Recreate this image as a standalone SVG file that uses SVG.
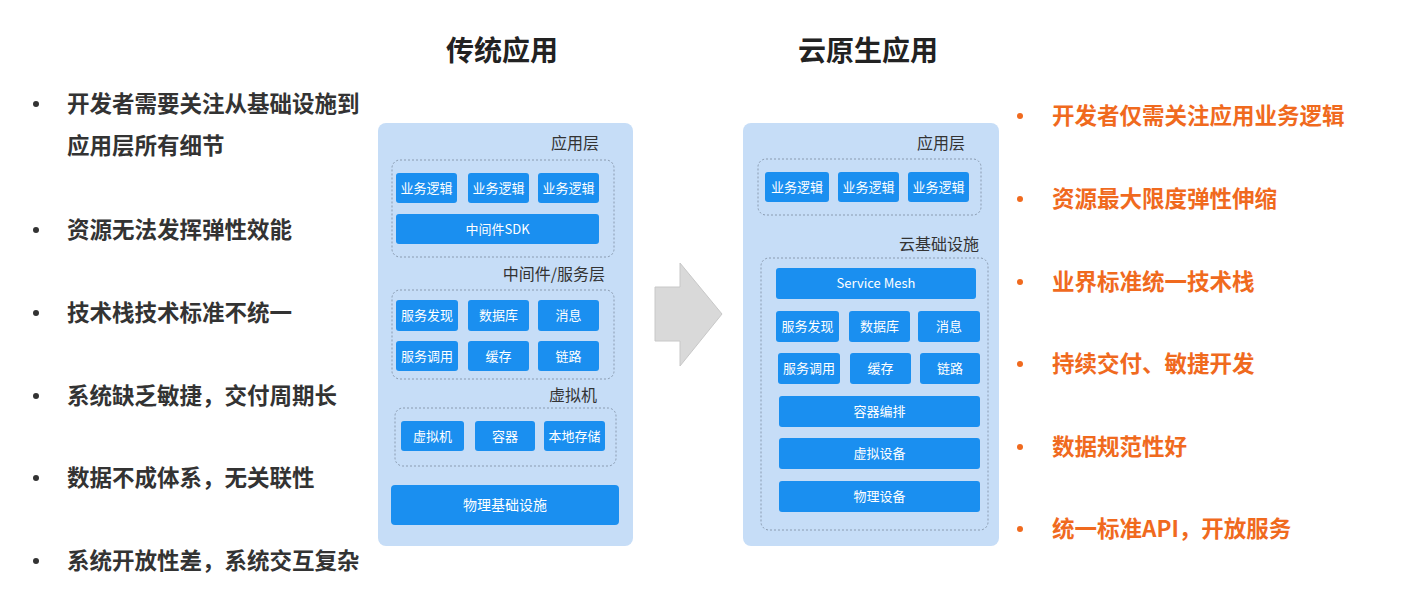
<svg xmlns="http://www.w3.org/2000/svg" width="1418" height="616" viewBox="0 0 1418 616">
<style>
text{font-family:"Noto Sans CJK SC","Liberation Sans",sans-serif}
.t{font-size:28px;font-weight:bold;fill:#222;text-anchor:middle}
.l{font-size:22.5px;font-weight:bold;fill:#333}
.r{font-size:22.5px;font-weight:bold;fill:#f06a1e}
.panel{fill:#c6ddf7}
.grp{fill:none;stroke:#8a9bb0;stroke-width:1;stroke-dasharray:2 2}
.b{fill:#1a8ff0}
.bt{font-size:13px;fill:#fff;text-anchor:middle}
.lab{font-size:16px;fill:#333;text-anchor:end}
</style>
<rect width="1418" height="616" fill="#fff"/>
<text class="t" x="502" y="61">传统应用</text>
<text class="t" x="868" y="61">云原生应用</text>
<g id="left-list">
<circle cx="36" cy="104" r="3" fill="#333"/><text class="l" x="67" y="112">开发者需要关注从基础设施到</text><text class="l" x="67" y="154">应用层所有细节</text>
<circle cx="36" cy="230" r="3" fill="#333"/><text class="l" x="67" y="238">资源无法发挥弹性效能</text>
<circle cx="36" cy="313" r="3" fill="#333"/><text class="l" x="67" y="321">技术栈技术标准不统一</text>
<circle cx="36" cy="396" r="3" fill="#333"/><text class="l" x="67" y="404">系统缺乏敏捷，交付周期长</text>
<circle cx="36" cy="478" r="3" fill="#333"/><text class="l" x="67" y="486">数据不成体系，无关联性</text>
<circle cx="36" cy="561" r="3" fill="#333"/><text class="l" x="67" y="569">系统开放性差，系统交互复杂</text>
</g>
<g id="right-list">
<circle cx="1020" cy="116" r="3" fill="#f06a1e"/><text class="r" x="1052" y="124">开发者仅需关注应用业务逻辑</text>
<circle cx="1020" cy="199" r="3" fill="#f06a1e"/><text class="r" x="1052" y="207">资源最大限度弹性伸缩</text>
<circle cx="1020" cy="282" r="3" fill="#f06a1e"/><text class="r" x="1052" y="290">业界标准统一技术栈</text>
<circle cx="1020" cy="364" r="3" fill="#f06a1e"/><text class="r" x="1052" y="372">持续交付、敏捷开发</text>
<circle cx="1020" cy="447" r="3" fill="#f06a1e"/><text class="r" x="1052" y="455">数据规范性好</text>
<circle cx="1020" cy="529" r="3" fill="#f06a1e"/><text class="r" x="1052" y="537">统一标准API，开放服务</text>
</g>
<g id="traditional">
<rect class="panel" x="378" y="123" width="255" height="423" rx="8"/>
<text class="lab" x="599" y="149">应用层</text>
<rect class="grp" x="392" y="160" width="222" height="97" rx="8"/>
<rect class="b" x="396" y="173" width="61" height="30" rx="3"/><text class="bt" x="426.5" y="193">业务逻辑</text>
<rect class="b" x="468" y="173" width="61" height="30" rx="3"/><text class="bt" x="498.5" y="193">业务逻辑</text>
<rect class="b" x="538" y="173" width="61" height="30" rx="3"/><text class="bt" x="568.5" y="193">业务逻辑</text>
<rect class="b" x="396" y="214" width="203" height="30" rx="3"/><text class="bt" x="497.5" y="234">中间件SDK</text>
<text class="lab" x="605" y="280">中间件/服务层</text>
<rect class="grp" x="392" y="290" width="222" height="89" rx="8"/>
<rect class="b" x="396" y="300" width="62" height="31" rx="3"/><text class="bt" x="427" y="320">服务发现</text>
<rect class="b" x="468" y="300" width="61" height="31" rx="3"/><text class="bt" x="498.5" y="320">数据库</text>
<rect class="b" x="538" y="300" width="61" height="31" rx="3"/><text class="bt" x="568.5" y="320">消息</text>
<rect class="b" x="396" y="341" width="62" height="30" rx="3"/><text class="bt" x="427" y="361">服务调用</text>
<rect class="b" x="468" y="341" width="61" height="30" rx="3"/><text class="bt" x="498.5" y="361">缓存</text>
<rect class="b" x="538" y="341" width="61" height="30" rx="3"/><text class="bt" x="568.5" y="361">链路</text>
<text class="lab" x="597" y="401">虚拟机</text>
<rect class="grp" x="395" y="408" width="221" height="58" rx="8"/>
<rect class="b" x="401" y="421" width="63" height="30" rx="3"/><text class="bt" x="432.5" y="441">虚拟机</text>
<rect class="b" x="475" y="421" width="60" height="30" rx="3"/><text class="bt" x="505" y="441">容器</text>
<rect class="b" x="544" y="421" width="61" height="30" rx="3"/><text class="bt" x="574.5" y="441">本地存储</text>
<rect class="b" x="391" y="485" width="228" height="40" rx="4"/><text class="bt" x="505" y="510" style="font-size:14px">物理基础设施</text>
</g>
<g id="arrow"><polygon points="655,287 680,287 680,263 722,314 680,366 680,341 655,341" fill="#d9d9d9" stroke="#c8c8c8"/></g>
<g id="cloud">
<rect class="panel" x="743" y="123" width="256" height="423" rx="8"/>
<text class="lab" x="965" y="149">应用层</text>
<rect class="grp" x="758" y="159" width="223" height="56" rx="8"/>
<rect class="b" x="765" y="172" width="64" height="30" rx="3"/><text class="bt" x="797" y="192">业务逻辑</text>
<rect class="b" x="838" y="172" width="61" height="30" rx="3"/><text class="bt" x="868.5" y="192">业务逻辑</text>
<rect class="b" x="908" y="172" width="61" height="30" rx="3"/><text class="bt" x="938.5" y="192">业务逻辑</text>
<text class="lab" x="979" y="250">云基础设施</text>
<rect class="grp" x="761" y="258" width="227" height="272" rx="8"/>
<rect class="b" x="776" y="268" width="200" height="31" rx="3"/><text class="bt" x="876" y="288">Service Mesh</text>
<rect class="b" x="776" y="311" width="63" height="31" rx="3"/><text class="bt" x="807.5" y="331">服务发现</text>
<rect class="b" x="849" y="311" width="61" height="31" rx="3"/><text class="bt" x="879.5" y="331">数据库</text>
<rect class="b" x="918" y="311" width="62" height="31" rx="3"/><text class="bt" x="949" y="331">消息</text>
<rect class="b" x="778" y="353" width="62" height="31" rx="3"/><text class="bt" x="809" y="373">服务调用</text>
<rect class="b" x="850" y="353" width="61" height="31" rx="3"/><text class="bt" x="880.5" y="373">缓存</text>
<rect class="b" x="920" y="353" width="60" height="31" rx="3"/><text class="bt" x="950" y="373">链路</text>
<rect class="b" x="779" y="396" width="201" height="31" rx="3"/><text class="bt" x="879.5" y="416">容器编排</text>
<rect class="b" x="779" y="438" width="201" height="31" rx="3"/><text class="bt" x="879.5" y="458">虚拟设备</text>
<rect class="b" x="779" y="481" width="201" height="31" rx="3"/><text class="bt" x="879.5" y="501">物理设备</text>
</g>
</svg>
